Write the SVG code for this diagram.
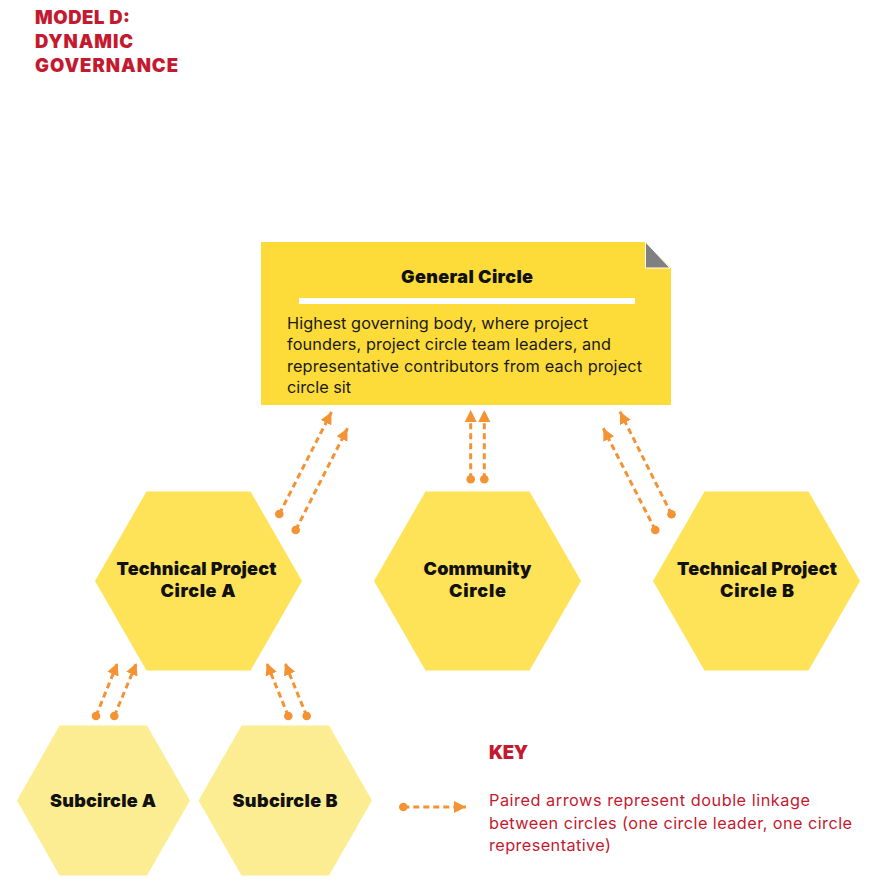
<svg xmlns="http://www.w3.org/2000/svg" width="886" height="889" viewBox="0 0 886 889">
<defs>
<style>
.title{font-family:Inter,"Liberation Sans",sans-serif;font-weight:900;fill:#C41A2F;font-size:18.5px}
.hl{font-family:Inter,"Liberation Sans",sans-serif;font-weight:900;fill:#111;font-size:18px;text-anchor:middle}
.body{font-family:Inter,"Liberation Sans",sans-serif;font-weight:400;fill:#1a1a1a;font-size:16.3px}
.key{font-family:Inter,"Liberation Sans",sans-serif;font-weight:400;fill:#C41A2F;font-size:16.3px}
.hex{fill:#FEE257}
.sub{fill:#FDED92}
.link{stroke:#F39333;stroke-width:3;stroke-dasharray:6 4;fill:none;marker-start:url(#dot);marker-end:url(#head)}
</style>
<marker id="head" markerUnits="userSpaceOnUse" markerWidth="14" markerHeight="14" refX="12" refY="6" orient="auto" viewBox="0 0 14 12">
<path d="M0,0 L12,6 L0,12 Z" fill="#F39333"/>
</marker>
<marker id="dot" markerUnits="userSpaceOnUse" markerWidth="10" markerHeight="10" refX="5" refY="5" viewBox="0 0 10 10">
<circle cx="5" cy="5" r="4.3" fill="#F39333"/>
</marker>
</defs>
<rect width="886" height="889" fill="#fff"/>
<g id="title">
<text class="title" x="35" y="23.5" textLength="95" lengthAdjust="spacing">MODEL D:</text>
<text class="title" x="35" y="47.5" textLength="98" lengthAdjust="spacing">DYNAMIC</text>
<text class="title" x="35" y="71.5" textLength="143" lengthAdjust="spacing">GOVERNANCE</text>
</g>
<g id="general-circle">
<path d="M261,242 H645 L671,268 V405 H261 Z" fill="#FDDC3A"/>
<path d="M645.5,242 L645.5,268 L670,268 Z" fill="#808080" stroke="#fff" stroke-width="1"/>
<text class="hl" x="467" y="283" font-size="17.5" textLength="132" lengthAdjust="spacing">General Circle</text>
<rect x="299" y="298" width="336" height="6" fill="#fff"/>
<text class="body" x="287" y="328.5" textLength="301" lengthAdjust="spacing">Highest governing body, where project</text>
<text class="body" x="287" y="350" textLength="324" lengthAdjust="spacing">founders, project circle team leaders, and</text>
<text class="body" x="287" y="371.5" textLength="355" lengthAdjust="spacing">representative contributors from each project</text>
<text class="body" x="287" y="393" textLength="64" lengthAdjust="spacing">circle sit</text>
</g>
<g id="tech-a">
<polygon class="hex" points="146.5,491.5 250.5,491.5 302,581 250.5,670.5 146.5,670.5 95,581"/>
<text class="hl" x="196.5" y="575" textLength="160" lengthAdjust="spacing">Technical Project</text>
<text class="hl" x="198" y="597" textLength="75" lengthAdjust="spacing">Circle A</text>
</g>
<g id="community">
<polygon class="hex" points="425.5,491.5 529.5,491.5 581,581 529.5,670.5 425.5,670.5 374,581"/>
<text class="hl" x="477.5" y="575" textLength="108" lengthAdjust="spacing">Community</text>
<text class="hl" x="477.5" y="597" textLength="57" lengthAdjust="spacing">Circle</text>
</g>
<g id="tech-b">
<polygon class="hex" points="704.5,491.5 808.5,491.5 860,581 808.5,670.5 704.5,670.5 653,581"/>
<text class="hl" x="757" y="575" textLength="160" lengthAdjust="spacing">Technical Project</text>
<text class="hl" x="757" y="597" textLength="74" lengthAdjust="spacing">Circle B</text>
</g>
<g id="subcircle-a">
<polygon class="sub" points="59.5,725.5 147,725.5 190,800.5 147,875.5 59.5,875.5 17,800.5"/>
<text class="hl" x="103" y="806.5" textLength="106" lengthAdjust="spacing">Subcircle A</text>
</g>
<g id="subcircle-b">
<polygon class="sub" points="241.5,725.5 329,725.5 372,800.5 329,875.5 241.5,875.5 198.5,800.5"/>
<text class="hl" x="285" y="806.5" textLength="105" lengthAdjust="spacing">Subcircle B</text>
</g>
<g id="connectors">
<line class="link" x1="279.3" y1="514" x2="331.5" y2="412"/>
<line class="link" x1="295.7" y1="530" x2="347.5" y2="428.3"/>
<line class="link" x1="470.7" y1="479.3" x2="470.7" y2="410"/>
<line class="link" x1="484.3" y1="479.3" x2="484.3" y2="410"/>
<line class="link" x1="655.3" y1="530" x2="603.3" y2="428.3"/>
<line class="link" x1="671.5" y1="514.3" x2="620" y2="411.7"/>
<line class="link" x1="96" y1="716" x2="117.5" y2="663"/>
<line class="link" x1="114.3" y1="716" x2="136.5" y2="663"/>
<line class="link" x1="288.3" y1="716" x2="266.7" y2="663"/>
<line class="link" x1="306.7" y1="716" x2="285" y2="663"/>
</g>
<g id="key">
<text class="title" x="489" y="759" font-size="21.5" textLength="39" lengthAdjust="spacing">KEY</text>
<line class="link" x1="403.3" y1="807" x2="466" y2="807"/>
<text class="key" x="489" y="806" textLength="321" lengthAdjust="spacing">Paired arrows represent double linkage</text>
<text class="key" x="489" y="829" textLength="363" lengthAdjust="spacing">between circles (one circle leader, one circle</text>
<text class="key" x="489" y="851" textLength="122" lengthAdjust="spacing">representative)</text>
</g>
</svg>
